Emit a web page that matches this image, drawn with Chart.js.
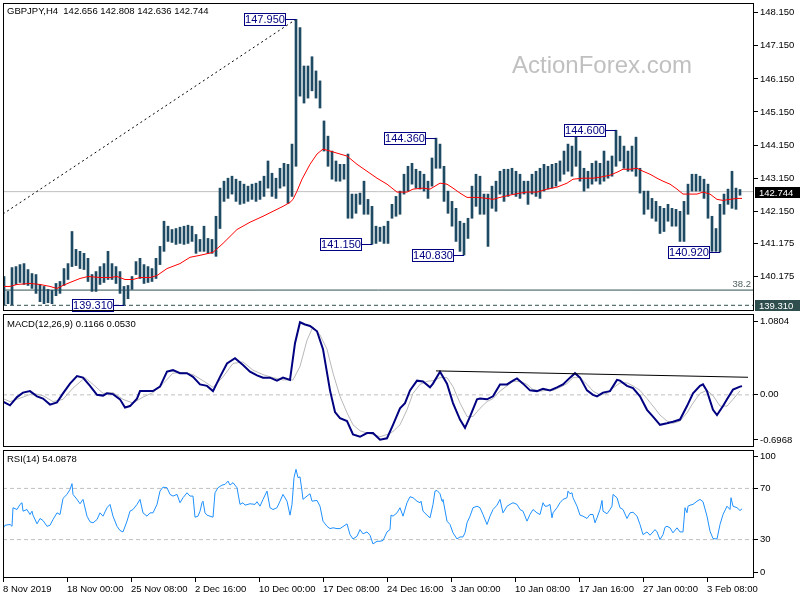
<!DOCTYPE html>
<html>
<head>
<meta charset="utf-8">
<script src="https://cdn.jsdelivr.net/npm/chart.js@4.4.1/dist/chart.umd.min.js"></script>
<style>
    body { margin: 0; background: #fff; }
    #wrap { position: relative; width: 800px; height: 600px; overflow: hidden; }
    canvas { position: absolute; left: 0; }
</style>
</head>
<body>
<div id="wrap">
    <canvas id="price-chart" width="800" height="313" style="top:0"></canvas>
    <canvas id="macd-chart" width="800" height="135" style="top:313px"></canvas>
    <canvas id="rsi-chart" width="800" height="152" style="top:448px"></canvas>
</div>
<script>
// H4 bars, two 4h bars per entry
const highs = [
    140.18, 139.73, 140.45, 140.48, 140.54, 140.57, 140.39, 140.27, 140.24, 139.94,
    139.88, 139.79, 139.76, 139.97, 140.03, 140.42, 140.57, 141.54, 141.00, 140.94,
    140.88, 140.73, 140.24, 140.33, 140.48, 140.57, 140.94, 140.57, 140.48, 140.33,
    139.88, 139.91, 140.18, 140.63, 140.73, 140.54, 140.48, 140.42, 140.73, 141.09,
    141.85, 141.70, 141.60, 141.63, 141.67, 141.70, 141.73, 141.70, 141.45, 141.30,
    141.70, 141.33, 141.30, 142.00, 142.85, 143.06, 143.15, 143.21, 143.12, 143.06,
    142.97, 142.91, 142.97, 143.00, 143.06, 143.21, 143.67, 143.30, 143.15, 143.45,
    143.60, 143.57, 144.18, 147.95, 147.70, 146.54, 146.54, 146.82, 146.39, 146.09,
    144.88, 144.42, 143.97, 143.67, 143.57, 143.57, 143.88, 142.67, 142.67, 142.70,
    143.06, 142.51, 142.30, 141.70, 141.67, 141.70, 141.85, 142.36, 142.60, 142.76,
    143.27, 143.51, 143.60, 143.42, 143.36, 143.27, 143.06, 143.76, 144.36, 144.18,
    143.51, 142.76, 142.45, 142.24, 141.85, 141.79, 141.94, 142.91, 143.27, 143.21,
    142.67, 142.67, 142.91, 143.06, 143.36, 143.42, 143.42, 143.45, 143.36, 143.27,
    143.06, 143.06, 143.27, 143.36, 143.45, 143.57, 143.51, 143.57, 143.60, 143.67,
    143.97, 144.18, 144.12, 144.55, 143.97, 143.45, 143.36, 143.60, 143.67, 143.60,
    143.97, 143.67, 143.82, 144.60, 144.42, 144.12, 143.97, 144.12, 144.39, 143.45,
    142.76, 142.76, 142.54, 142.45, 142.30, 142.24, 142.36, 142.24, 142.21, 142.15,
    142.45, 142.97, 143.27, 143.27, 143.21, 143.12, 142.97, 142.00, 141.63, 142.36,
    142.67, 142.82, 143.36, 142.85, 142.808
];
const lows = [
    139.33, 139.36, 139.33, 139.94, 140.00, 139.94, 139.91, 139.82, 139.67, 139.42,
    139.36, 139.39, 139.36, 139.60, 139.67, 139.91, 140.09, 140.48, 140.51, 140.42,
    140.39, 140.03, 139.73, 139.73, 139.94, 140.00, 140.09, 140.09, 139.97, 139.67,
    139.31, 139.51, 139.79, 140.24, 140.12, 139.97, 140.00, 140.03, 140.12, 140.54,
    140.94, 141.24, 141.21, 141.15, 141.18, 141.15, 141.18, 141.24, 140.88, 140.94,
    140.94, 140.88, 140.88, 140.79, 141.63, 142.45, 142.54, 142.67, 142.45, 142.36,
    142.39, 142.45, 142.51, 142.45, 142.51, 142.60, 142.85, 142.60, 142.54, 142.85,
    142.91, 142.39, 142.60, 143.51, 145.63, 145.42, 145.57, 145.79, 145.57, 145.27,
    143.97, 143.51, 143.12, 143.06, 143.06, 143.12, 141.94, 141.94, 142.09, 142.36,
    142.06, 142.06, 141.15, 141.18, 141.24, 141.18, 141.18, 141.94, 142.00, 142.06,
    142.67, 142.76, 142.97, 142.85, 142.82, 142.76, 142.54, 142.91, 143.45, 143.45,
    142.45, 142.09, 141.70, 141.24, 140.94, 140.83, 141.33, 141.94, 142.30, 142.06,
    142.06, 141.09, 142.24, 142.15, 142.67, 142.45, 142.60, 142.67, 142.60, 142.54,
    142.67, 142.36, 142.67, 142.60, 142.54, 142.76, 142.82, 142.85, 142.91, 143.06,
    143.27, 143.36, 143.21, 143.51, 143.06, 142.76, 142.85, 142.97, 143.06, 142.97,
    143.06, 143.15, 143.21, 143.51, 143.67, 143.45, 143.36, 143.36, 143.21, 142.70,
    142.06, 142.21, 141.94, 141.85, 141.48, 141.54, 141.85, 141.70, 141.70, 141.24,
    141.24, 142.06, 142.76, 142.76, 142.76, 142.54, 141.94, 140.94, 140.94, 140.92,
    142.06, 142.36, 142.24, 142.21, 142.636
];

// moving average, x in 4h-bar count from the first bar
const maN = [
    0, 3.5, 7, 13.5, 18.5, 23.5, 27, 30, 33.5, 38.5,
    42.5, 48.5, 53.5, 57, 61, 65, 68.5, 73.5, 77, 82,
    88.5, 93.5, 98.5, 105, 110, 117, 123.5, 130, 135, 140,
    143.5, 145, 147, 149.5, 153.5, 157, 160, 163.5, 168.5, 172,
    177, 182, 187, 192, 197, 202, 205, 210, 213.5, 218.5,
    222, 225, 228.5, 232, 237, 242, 245, 248.5, 253.5, 258.5,
    262, 267, 272, 277, 282, 285, 290, 295, 298.5, 303.5,
    307, 310, 313.5, 317, 320, 323.5, 327, 330, 333.5, 337,
    340, 343.5, 347, 350, 353.5, 357, 360, 363.5, 367, 369.5
];
const maValues = [
    139.88, 139.88, 139.94, 139.97, 139.94, 139.88, 139.82, 139.91, 140.00, 140.12,
    140.18, 140.15, 140.15, 140.18, 140.09, 140.09, 140.15, 140.15, 140.21, 140.42,
    140.57, 140.76, 140.82, 140.91, 141.18, 141.60, 141.82, 142.00, 142.15, 142.30,
    142.42, 142.51, 142.76, 143.12, 143.57, 143.88, 144.03, 143.97, 143.88, 143.82,
    143.57, 143.36, 143.15, 142.97, 142.73, 142.73, 142.82, 142.85, 142.82, 143.00,
    142.97, 142.85, 142.70, 142.57, 142.57, 142.54, 142.51, 142.57, 142.64, 142.70,
    142.73, 142.73, 142.82, 142.88, 143.00, 143.12, 143.15, 143.15, 143.18, 143.24,
    143.33, 143.42, 143.42, 143.45, 143.36, 143.27, 143.15, 143.06, 142.97, 142.82,
    142.67, 142.67, 142.67, 142.73, 142.67, 142.51, 142.48, 142.51, 142.54, 142.54
];

const macdN = [
    0, 3.5, 7, 10, 13.5, 17, 20, 23.5, 27, 30,
    33.5, 37, 40, 43.5, 47, 50, 52, 55, 58.5, 61,
    63.5, 67, 68.5, 72, 75, 78.5, 82, 85, 88.5, 92,
    95, 98.5, 102, 105, 108.5, 112, 116, 120, 123.5, 127,
    130, 133.5, 137, 140, 143.5, 146, 148.5, 151, 153.5, 157,
    160, 163.5, 166, 168.5, 172, 175, 178.5, 182, 185, 188.5,
    192, 195, 198.5, 201, 203.5, 207, 210, 213.5, 215, 218.5,
    222, 225, 228.5, 231, 233.5, 237, 238.5, 242, 245, 248.5,
    252, 255, 257, 260, 263.5, 267, 270, 273.5, 277, 280,
    283.5, 286, 288.5, 292, 295, 297, 300, 303.5, 307, 308.5,
    312, 315, 318.5, 322, 325, 328.5, 332, 335, 338.5, 342,
    345, 348.5, 350, 352, 355, 357, 360, 362, 365, 368.5, 369.5
];
const macdValues = [
    -0.09, -0.14, -0.03, 0.03, 0.05, -0.02, -0.05, -0.13, -0.10, 0.02,
    0.15, 0.25, 0.23, 0.12, 0.00, -0.01, 0.02, 0.01, -0.06, -0.17,
    -0.15, -0.05, 0.05, 0.05, 0.05, 0.11, 0.31, 0.33, 0.29, 0.29,
    0.24, 0.14, 0.12, 0.05, 0.24, 0.42, 0.49, 0.40, 0.31, 0.26,
    0.23, 0.23, 0.19, 0.23, 0.20, 0.69, 0.97, 0.94, 0.92, 0.85,
    0.61, 0.06, -0.23, -0.31, -0.35, -0.53, -0.56, -0.51, -0.51, -0.60,
    -0.58, -0.40, -0.18, -0.11, 0.06, 0.19, 0.18, 0.10, 0.15, 0.31,
    0.15, -0.11, -0.33, -0.44, -0.29, -0.06, -0.05, -0.06, -0.02, 0.14,
    0.14, 0.19, 0.22, 0.15, 0.06, 0.05, 0.08, 0.06, 0.10, 0.14,
    0.23, 0.29, 0.23, 0.06, 0.00, -0.02, 0.03, 0.05, 0.20, 0.19,
    0.12, 0.09, -0.02, -0.20, -0.29, -0.40, -0.38, -0.36, -0.33, -0.15,
    0.02, 0.12, 0.14, 0.05, -0.20, -0.27, -0.15, -0.06, 0.07, 0.11, 0.117
];
const signalN = [
    0, 3.5, 10, 15, 20, 25, 30, 35, 41, 45,
    50, 55, 60, 65, 70, 75, 80, 85, 90, 95,
    100, 105, 110, 115, 120, 125, 130, 135, 140, 145,
    148.5, 152, 155, 158.5, 162, 165, 168.5, 172, 175, 178.5,
    182, 185, 188.5, 192, 195, 198.5, 202, 205, 208.5, 212,
    215, 218.5, 222, 225, 228.5, 232, 235, 238.5, 242, 245,
    248.5, 252, 255, 258.5, 262, 265, 268.5, 272, 275, 278.5,
    282, 285, 288.5, 292, 295, 298.5, 302, 305, 308.5, 312,
    315, 318.5, 322, 325, 328.5, 332, 335, 338.5, 342, 345,
    348.5, 352, 355, 358.5, 362, 365, 368.5
];
const signalValues = [
    -0.05, -0.09, -0.03, 0.02, -0.01, -0.09, -0.06, 0.09, 0.23, 0.14,
    0.02, 0.03, -0.06, -0.11, -0.03, 0.03, 0.15, 0.29, 0.30, 0.27,
    0.19, 0.10, 0.24, 0.42, 0.44, 0.33, 0.27, 0.23, 0.20, 0.20,
    0.38, 0.73, 0.91, 0.80, 0.61, 0.29, -0.02, -0.24, -0.40, -0.48,
    -0.51, -0.53, -0.56, -0.53, -0.49, -0.40, -0.20, 0.02, 0.14, 0.18,
    0.19, 0.23, 0.23, 0.11, -0.11, -0.29, -0.29, -0.18, -0.09, -0.05,
    0.05, 0.12, 0.18, 0.18, 0.14, 0.07, 0.05, 0.06, 0.06, 0.10,
    0.15, 0.23, 0.23, 0.14, 0.05, 0.00, 0.02, 0.09, 0.16, 0.16,
    0.12, 0.06, -0.05, -0.15, -0.27, -0.35, -0.38, -0.35, -0.24, -0.11,
    0.02, 0.06, -0.01, -0.15, -0.15, -0.06, 0.053
];
const macdTrendN = [216.5, 372.5];
const macdTrendValues = [0.32, 0.235];

const rsiN = [
    0, 1, 3.5, 4.5, 5, 7, 8.5, 9.5, 10, 12,
    13.5, 14.5, 15, 17, 18.5, 20, 22, 23.5, 25, 27,
    28.5, 30, 32, 33.5, 34.5, 35, 37, 38.5, 40, 42,
    43.5, 45, 47, 48.5, 50, 52, 53.5, 55, 57, 58.5,
    60, 62, 63.5, 65, 67, 68.5, 70, 72, 73.5, 75,
    77, 78.5, 80, 82, 83.5, 85, 87, 88.5, 90, 92,
    93.5, 95, 96, 97.5, 98.5, 99.5, 100, 101, 102, 103.5,
    105, 106, 107.5, 109.5, 111, 112.5, 113.5, 115, 117, 118.5,
    120, 121, 123.5, 126, 127, 128.5, 130, 132, 133.5, 135,
    137, 138.5, 140, 142, 143.5, 144.5, 145.5, 146.5, 147.5, 148.5,
    149.5, 150, 152, 153.5, 154.5, 157, 158.5, 160, 162, 163.5,
    165, 167, 168.5, 172, 173.5, 175, 177, 178.5, 180, 182,
    183.5, 185, 187, 188.5, 190, 192, 193.5, 194, 195, 197,
    198.5, 200, 202, 203.5, 205, 207, 208.5, 209, 210, 212,
    213.5, 215, 216, 217, 218.5, 219.5, 220, 222, 223.5, 225,
    227, 228.5, 230, 231, 232, 233.5, 235, 237, 238.5, 240,
    242, 243.5, 245, 247, 248.5, 250, 252, 253.5, 255, 257,
    258.5, 260, 262, 263.5, 265, 267, 268.5, 270, 271, 272,
    273.5, 274.5, 275, 277, 278.5, 280, 282, 282.5, 283.5, 284.5,
    285, 287, 288.5, 290, 292, 293.5, 295, 296, 297, 298.5,
    299.5, 300, 302, 303.5, 304.5, 305, 307, 308.5, 310, 312,
    313.5, 315, 317, 318.5, 320, 322, 323.5, 325, 326, 327,
    328.5, 330, 331, 332, 333.5, 335, 337, 338.5, 340, 341,
    342, 342.5, 343.5, 345, 347, 348.5, 350, 352, 353.5, 355,
    357, 358.5, 360, 362, 363.5, 364, 365, 367, 368.5, 369.5
];
const rsiValues = [
    38.6, 41.2, 41.8, 40.4, 54.9, 53.5, 57.5, 58.8, 52.2, 53.5,
    49.6, 52.2, 49.1, 42.3, 46.5, 44.9, 40.4, 41.2, 45.7, 50.9,
    49.6, 62.2, 65.3, 69.2, 73.7, 65.3, 61.4, 58.0, 61.4, 48.3,
    43.9, 43.1, 45.7, 50.9, 48.3, 54.9, 57.5, 48.3, 40.4, 37.1,
    36.0, 44.4, 52.2, 53.5, 57.5, 61.4, 50.9, 48.3, 50.9, 50.9,
    57.5, 67.9, 71.0, 70.5, 65.3, 64.0, 65.3, 58.8, 62.7, 66.6,
    64.0, 64.0, 47.5, 48.3, 52.2, 58.8, 60.0, 50.9, 49.1, 48.3,
    47.5, 66.6, 70.5, 72.6, 73.1, 75.7, 72.6, 74.5, 70.5, 57.5,
    58.8, 56.9, 58.0, 57.5, 59.6, 56.1, 61.4, 67.9, 54.9, 53.5,
    54.9, 60.0, 65.3, 60.0, 49.1, 57.5, 78.4, 84.9, 78.4, 79.0,
    67.9, 61.4, 64.0, 65.8, 60.0, 60.6, 56.1, 44.4, 40.4, 38.6,
    39.2, 38.6, 38.6, 42.3, 33.9, 30.5, 32.6, 37.8, 34.5, 36.0,
    33.4, 26.6, 28.7, 28.7, 29.3, 36.0, 37.8, 49.1, 48.3, 50.9,
    54.9, 48.3, 58.8, 63.5, 62.7, 60.0, 58.8, 60.0, 52.2, 49.1,
    47.0, 57.5, 67.9, 68.4, 65.8, 60.0, 61.4, 44.4, 41.8, 35.3,
    30.5, 32.1, 32.1, 35.3, 43.1, 48.3, 54.9, 56.1, 54.9, 49.6,
    41.8, 48.3, 53.5, 56.9, 61.4, 50.9, 56.1, 57.5, 58.8, 57.5,
    53.5, 52.2, 44.4, 49.6, 53.5, 50.9, 49.6, 58.8, 56.1, 56.1,
    57.5, 47.0, 50.9, 54.9, 58.8, 61.4, 62.7, 67.9, 65.8, 66.6,
    62.7, 56.1, 49.1, 48.3, 46.5, 49.6, 49.6, 43.1, 47.0, 53.5,
    60.6, 52.2, 50.2, 53.5, 56.1, 65.3, 62.7, 54.9, 53.5, 46.5,
    50.9, 51.4, 48.3, 41.8, 33.9, 36.0, 33.4, 36.0, 37.8, 36.0,
    30.0, 33.9, 39.6, 40.4, 39.2, 35.3, 39.2, 36.0, 36.0, 54.9,
    51.0, 56.1, 56.9, 57.5, 60.0, 61.4, 59.6, 48.3, 36.5, 30.8,
    30.5, 41.8, 49.6, 56.1, 53.5, 62.7, 56.1, 54.9, 52.7, 54.09
];

// swing labels: price and the bar it belongs to
const swingPrices = [147.95, 144.36, 144.60, 141.15, 140.83, 140.92, 139.31];
const swingBars = [73, 108, 153, 92, 115, 179, 30];

const lastClose = 142.744;
const fibLevel = 139.77;
const swingLow = 139.31;
const trendN = [0, 146.5];
const trendValues = [142.07, 147.95];

const priceTicks = [148.15, 147.15, 146.15, 145.15, 144.15, 143.15, 142.15, 141.175, 140.175];
const macdTicks = [0.977, 0, -0.603];
const macdTickLabels = ['1.0804', '0.00', '-0.6968'];
const rsiTicks = [94.8, 70, 30, 4.1];
const rsiTickLabels = ['100', '70', '30', '0'];
const dateTicks = [0, 32, 64, 96, 128, 160, 192, 224, 256, 288, 320, 352];
const dateLabels = ['8 Nov 2019', '18 Nov 00:00', '25 Nov 08:00', '2 Dec 16:00', '10 Dec 00:00', '17 Dec 08:00',
    '24 Dec 16:00', '3 Jan 00:00', '10 Jan 08:00', '17 Jan 16:00', '27 Jan 00:00', '3 Feb 08:00'];

const X_MIN = 0;
const X_MAX = 375.5;
const FONT = '"Liberation Sans", Arial, sans-serif';
const FONT_SIZE = 9.5;

Chart.defaults.font.family = FONT;
Chart.defaults.font.size = FONT_SIZE;
Chart.defaults.color = '#000';

function points(xs, ys) {
    return xs.map((x, k) => ({x: x, y: ys[k]}));
}

function hline(value) {
    return [{x: X_MIN, y: value}, {x: X_MAX, y: value}];
}

function hiddenX() {
    return {type: 'linear', min: X_MIN, max: X_MAX, offset: false, display: false};
}

function rightAxis(min, max, values, labelFor) {
    return {
        position: 'right',
        min: min,
        max: max,
        bounds: 'data',
        afterBuildTicks: s => { s.ticks = values.map(v => ({value: v})); },
        afterFit: s => { s.width = 46; s.paddingTop = 0; s.paddingBottom = 0; },
        ticks: {padding: 2, autoSkip: false, callback: labelFor},
        grid: {drawOnChartArea: false, tickLength: 4, color: '#000'},
        border: {display: false}
    };
}

function framePlugin(title) {
    return {
        id: 'frame',
        afterDraw(chart) {
            const {ctx, chartArea: a} = chart;
            ctx.save();
            ctx.strokeStyle = '#000';
            ctx.lineWidth = 1;
            ctx.strokeRect(a.left + 0.5, a.top + 0.5, a.right - a.left - 1, a.bottom - a.top - 1);
            ctx.fillStyle = '#000';
            ctx.font = FONT_SIZE + 'px ' + FONT;
            ctx.textAlign = 'left';
            ctx.textBaseline = 'alphabetic';
            ctx.fillText(title, 7, 14);
            ctx.restore();
        }
    };
}

const line = (data, color, width, extra) => Object.assign({
    type: 'line', data: data, borderColor: color, borderWidth: width,
    pointRadius: 0, tension: 0, fill: false
}, extra || {});

const baseOptions = {
    responsive: false,
    animation: false,
    devicePixelRatio: 1,
    events: [],
    plugins: {legend: {display: false}, tooltip: {enabled: false}}
};

// price panel
const priceOverlay = {
    id: 'priceOverlay',
    beforeDatasetsDraw(chart) {
        const ctx = chart.ctx;
        ctx.save();
        ctx.fillStyle = '#c0c0c0';
        ctx.font = '24px ' + FONT;
        ctx.textBaseline = 'alphabetic';
        ctx.fillText('ActionForex.com', 512, 73);
        ctx.restore();
    },
    afterDraw(chart) {
        const {ctx, scales: {x, y}} = chart;
        ctx.save();
        ctx.font = '11px ' + FONT;
        ctx.textBaseline = 'middle';
        ctx.textAlign = 'center';
        ctx.lineWidth = 1;
        swingPrices.forEach((price, k) => {
            const bx = Math.round(x.getPixelForValue(2 * swingBars[k] + 0.5));
            const cy = Math.round(y.getPixelForValue(price));
            const right = bx - 10;
            ctx.fillStyle = '#fff';
            ctx.fillRect(right - 42, cy - 6, 42, 12);
            ctx.strokeStyle = '#000080';
            ctx.strokeRect(right - 41.5, cy - 5.5, 41, 12);
            ctx.beginPath();
            ctx.moveTo(right, cy + 0.5);
            ctx.lineTo(bx, cy + 0.5);
            ctx.stroke();
            ctx.fillStyle = '#000080';
            ctx.fillText(price.toFixed(3), right - 21, cy + 1);
        });

        ctx.font = FONT_SIZE + 'px ' + FONT;
        ctx.textAlign = 'left';
        [[lastClose, '#000000'], [swingLow, '#2f4f4f']].forEach(([price, bg]) => {
            const cy = Math.round(y.getPixelForValue(price));
            ctx.fillStyle = bg;
            ctx.fillRect(755, cy - 5, 45, 11);
            ctx.fillStyle = '#fff';
            ctx.fillText(price.toFixed(3), 759, cy + 1);
        });

        ctx.fillStyle = '#4f5f5f';
        ctx.textAlign = 'right';
        ctx.textBaseline = 'alphabetic';
        ctx.fillText('38.2', 751, y.getPixelForValue(fibLevel) - 3);
        ctx.restore();
    }
};

new Chart(document.getElementById('price-chart'), {
    type: 'bar',
    data: {
        datasets: [
            line(points(maN, maValues), '#ff0000', 1, {order: 0}),
            {
                type: 'bar',
                data: highs.map((h, i) => ({x: 2 * i + 0.5, y: [lows[i], h]})),
                backgroundColor: '#1f4a63',
                barThickness: 2,
                borderWidth: 0,
                grouped: false,
                order: 1
            },
            line(points(trendN, trendValues), '#000', 1, {borderDash: [2, 3], order: 2}),
            line(hline(fibLevel), '#2f4f4f', 1, {order: 3}),
            line(hline(swingLow), '#2f4f4f', 1, {borderDash: [4, 3], order: 3}),
            line(hline(lastClose), '#c0c0c0', 1, {order: 4})
        ]
    },
    options: Object.assign({}, baseOptions, {
        layout: {padding: {left: 3, top: 3, right: 0, bottom: 2}},
        scales: {
            x: hiddenX(),
            y: rightAxis(139.138, 148.443, priceTicks, v => v.toFixed(3))
        }
    }),
    plugins: [priceOverlay, framePlugin('GBPJPY,H4  142.656 142.808 142.636 142.744')]
});

// MACD panel
new Chart(document.getElementById('macd-chart'), {
    type: 'line',
    data: {
        datasets: [
            line(points(macdTrendN, macdTrendValues), '#000', 1, {order: 0}),
            line(points(macdN, macdValues), '#000080', 2, {order: 1}),
            line(points(signalN, signalValues), '#b8b8b8', 1, {order: 2}),
            line(hline(0), '#c0c0c0', 1, {borderDash: [4, 3], order: 3})
        ]
    },
    options: Object.assign({}, baseOptions, {
        layout: {padding: {left: 3, top: 1, right: 0, bottom: 1}},
        scales: {
            x: hiddenX(),
            y: rightAxis(-0.6968, 1.0804, macdTicks, (v, i) => macdTickLabels[i])
        }
    }),
    plugins: [framePlugin('MACD(12,26,9) 0.1166 0.0530')]
});

// RSI panel
new Chart(document.getElementById('rsi-chart'), {
    type: 'line',
    data: {
        datasets: [
            line(points(rsiN, rsiValues), '#1e90ff', 1, {order: 0}),
            line(hline(70), '#c0c0c0', 1, {borderDash: [4, 3], order: 1}),
            line(hline(30), '#c0c0c0', 1, {borderDash: [4, 3], order: 1})
        ]
    },
    options: Object.assign({}, baseOptions, {
        layout: {padding: {left: 3, top: 2, right: 0, bottom: 0}},
        scales: {
            x: {
                type: 'linear',
                min: X_MIN,
                max: X_MAX,
                offset: false,
                bounds: 'data',
                afterBuildTicks: s => { s.ticks = dateTicks.map(v => ({value: v})); },
                afterFit: s => { s.height = 22; s.paddingLeft = 0; s.paddingRight = 0; },
                ticks: {align: 'start', maxRotation: 0, autoSkip: false, padding: 2,
                    callback: (v, i) => dateLabels[i]},
                grid: {drawOnChartArea: false, tickLength: 4, color: '#000', offset: false},
                border: {display: false}
            },
            y: rightAxis(0, 100, rsiTicks, (v, i) => rsiTickLabels[i])
        }
    }),
    plugins: [framePlugin('RSI(14) 54.0878')]
});
</script>
</body>
</html>
